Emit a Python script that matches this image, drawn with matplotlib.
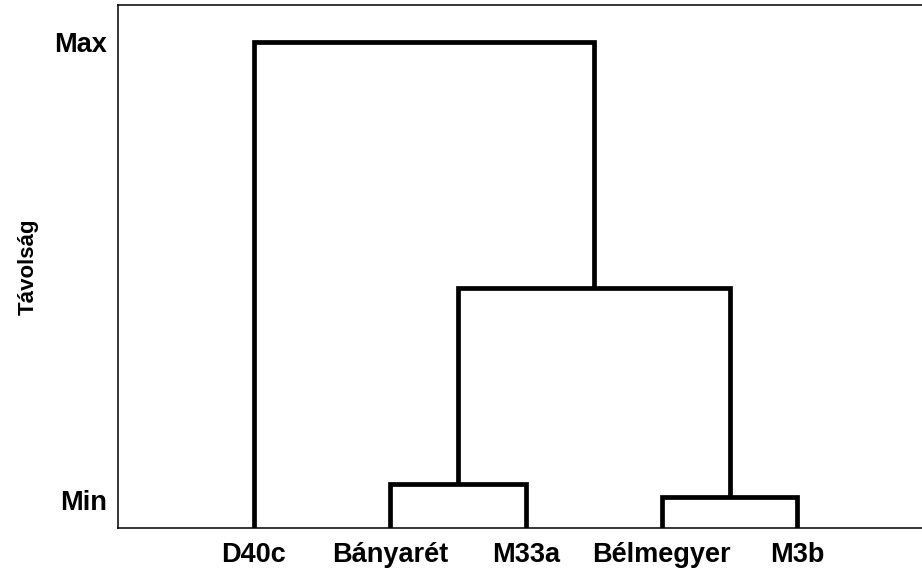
import matplotlib
matplotlib.use("Agg")
import matplotlib.pyplot as plt

# leaves in display order
leaves = ["D40c", "Bányarét", "M33a", "Bélmegyer", "M3b"]
leaf_pos = [1, 2, 3, 4, 5]

# merges: (left x, right x, height, left child height, right child height)
# heights on a 0 (Min) .. 1 (Max) scale, leaf base sits at the axis floor
floor = -0.061
merge_left = [2, 4, 2.5, 1]
merge_right = [3, 5, 4.5, 3.5]
merge_height = [0.035, 0.007, 0.463, 1.0]
child_left_h = [floor, floor, 0.035, floor]
child_right_h = [floor, floor, 0.007, 0.463]

fig = plt.figure(figsize=(9.22, 5.69), dpi=100)
ax = fig.add_axes([118 / 922, 1 - 528 / 569, 1 - 118 / 922 + 0.002, (528 - 5) / 569])

for xl, xr, h, hl, hr in zip(merge_left, merge_right, merge_height,
                             child_left_h, child_right_h):
    ax.plot([xl, xl, xr, xr], [hl, h, h, hr], color="black", lw=3.4,
            solid_joinstyle="miter", solid_capstyle="butt")

ax.set_xlim(0, 5.93)
ax.set_ylim(floor, 1.081)

ax.set_xticks(leaf_pos)
ax.set_xticklabels(leaves)
ax.set_yticks([0, 1])
ax.set_yticklabels(["Min", "Max"])
ax.tick_params(axis="x", length=0, labelsize=19.5, pad=10)
ax.tick_params(axis="y", length=0, labelsize=19.5, pad=8)
for lab in ax.get_xticklabels() + ax.get_yticklabels():
    lab.set_fontweight("bold")
    lab.set_fontfamily("Liberation Sans")

ax.set_ylabel("Távolság", fontsize=16, fontweight="bold",
              fontfamily="Liberation Sans", labelpad=11)

for s in ax.spines.values():
    s.set_linewidth(1.1)

fig.savefig("out.png", dpi=100)
